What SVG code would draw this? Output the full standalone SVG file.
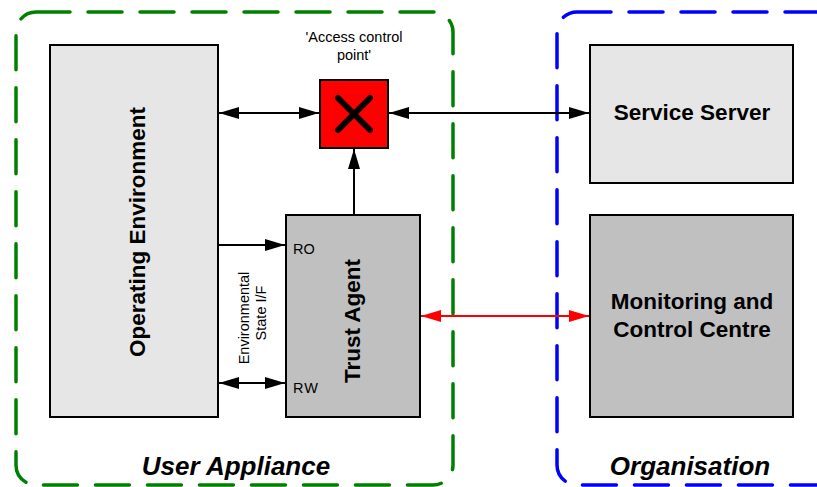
<svg xmlns="http://www.w3.org/2000/svg" width="817" height="487" viewBox="0 0 817 487">
<defs>
<marker id="ah" viewBox="0 0 20 12" refX="20" refY="6" markerWidth="20" markerHeight="12" markerUnits="userSpaceOnUse" orient="auto-start-reverse" overflow="visible">
<path d="M0,0 L20,6 L0,12 z" fill="#000"/>
</marker>
<marker id="ahr" viewBox="0 0 20 12" refX="20" refY="6" markerWidth="20" markerHeight="12" markerUnits="userSpaceOnUse" orient="auto-start-reverse" overflow="visible">
<path d="M0,0 L20,6 L0,12 z" fill="#f00"/>
</marker>
<style>
.zone{fill:none;stroke-width:3.5;stroke-dasharray:34 18;stroke-linecap:round}
.box{stroke:#000;stroke-width:2}
.light{fill:#e6e6e6}
.dark{fill:#c0c0c0}
.t{font-family:"Liberation Sans",Arial,sans-serif;fill:#000}
.big{font-size:22.5px;font-weight:bold}
.small{font-size:14.5px}
.zl{font-size:26px;font-weight:bold;font-style:italic}
.c{stroke:#000;stroke-width:2;fill:none}
</style>
</defs>
<rect width="817" height="487" fill="#fff"/>
<g id="user-appliance">
<rect class="zone" x="16" y="12" width="437" height="473" rx="20" stroke="#008000"/>
<text class="t zl" x="236" y="475" text-anchor="middle">User Appliance</text>
</g>
<g id="organisation">
<rect class="zone" x="557" y="12" width="280" height="473" rx="20" stroke="#0000ff"/>
<text class="t zl" x="690" y="475" text-anchor="middle">Organisation</text>
</g>
<g id="connectors">
<line class="c" x1="219" y1="113" x2="319" y2="113" marker-start="url(#ah)" marker-end="url(#ah)"/>
<line class="c" x1="389" y1="113" x2="589" y2="113" marker-start="url(#ah)" marker-end="url(#ah)"/>
<line class="c" x1="354" y1="214" x2="354" y2="149" marker-end="url(#ah)"/>
<line class="c" x1="219" y1="245" x2="285" y2="245" marker-end="url(#ah)"/>
<line class="c" x1="219" y1="383" x2="285" y2="383" marker-start="url(#ah)" marker-end="url(#ah)"/>
<line x1="421" y1="316" x2="589" y2="316" stroke="#f00" stroke-width="2" marker-start="url(#ahr)" marker-end="url(#ahr)"/>
</g>
<g id="operating-environment">
<rect class="box light" x="50" y="45" width="168" height="372"/>
<text class="t big" transform="translate(145,232) rotate(-90)" text-anchor="middle">Operating Environment</text>
</g>
<g id="env-state-if">
<text class="t small" transform="translate(249,318) rotate(-90)" text-anchor="middle">Environmental</text>
<text class="t small" transform="translate(266,313) rotate(-90)" text-anchor="middle">State I/F</text>
</g>
<g id="trust-agent">
<rect class="box dark" x="286" y="215" width="134" height="202"/>
<text class="t big" transform="translate(360,321) rotate(-90)" text-anchor="middle">Trust Agent</text>
<text class="t small" x="293" y="254">RO</text>
<text class="t small" x="293" y="393" letter-spacing="1">RW</text>
</g>
<g id="access-control-point">
<rect class="box" x="320" y="80" width="68" height="68" fill="#f00"/>
<path d="M338,98 L370,130 M370,98 L338,130" stroke="#000" stroke-width="6" stroke-linecap="round"/>
<text class="t small" x="354" y="42" text-anchor="middle">'Access control</text>
<text class="t small" x="354" y="60" text-anchor="middle">point'</text>
</g>
<g id="service-server">
<rect class="box light" x="590" y="45" width="203" height="138"/>
<text class="t big" x="692" y="120" text-anchor="middle">Service Server</text>
</g>
<g id="monitoring-control-centre">
<rect class="box dark" x="590" y="215" width="203" height="202"/>
<text class="t big" x="692" y="309" text-anchor="middle">Monitoring and</text>
<text class="t big" x="692" y="337" text-anchor="middle">Control Centre</text>
</g>
</svg>
